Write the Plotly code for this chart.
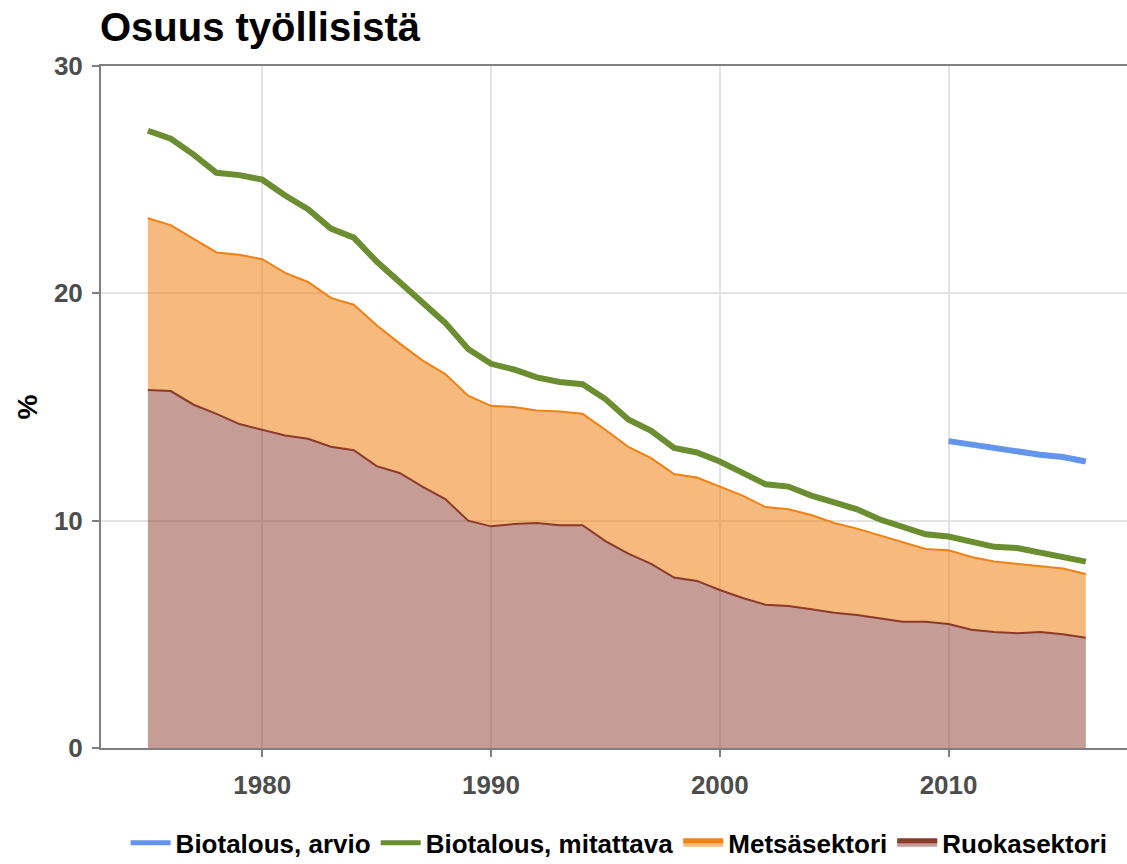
import plotly.graph_objects as go

# Vuodet ja sarjat (% työllisistä)
vuodet = list(range(1975, 2017))

ruokasektori = [15.75, 15.7, 15.1, 14.7, 14.25, 14.0, 13.75, 13.6, 13.25, 13.1,
                12.4, 12.1, 11.5, 10.95, 10.0, 9.75, 9.85, 9.9, 9.8, 9.8,
                9.1, 8.55, 8.1, 7.5, 7.35, 6.95, 6.6, 6.3, 6.25, 6.1,
                5.95, 5.85, 5.7, 5.55, 5.55, 5.45, 5.2, 5.1, 5.05, 5.1,
                5.0, 4.85]

metsasektori = [7.55, 7.3, 7.3, 7.1, 7.45, 7.5, 7.15, 6.9, 6.55, 6.4,
                6.2, 5.7, 5.55, 5.5, 5.5, 5.3, 5.15, 4.95, 5.0, 4.9,
                4.9, 4.7, 4.65, 4.55, 4.55, 4.55, 4.5, 4.3, 4.25, 4.15,
                3.95, 3.8, 3.65, 3.5, 3.2, 3.25, 3.2, 3.1, 3.05, 2.9,
                2.9, 2.8]

biotalous_mitattava = [27.15, 26.8, 26.1, 25.3, 25.2, 25.0, 24.3, 23.7, 22.85, 22.45,
                       21.4, 20.5, 19.55, 18.7, 17.55, 16.9, 16.65, 16.3, 16.1, 16.0,
                       15.35, 14.45, 13.95, 13.2, 13.0, 12.6, 12.1, 11.6, 11.5, 11.1,
                       10.8, 10.5, 10.05, 9.7, 9.4, 9.3, 9.1, 8.85, 8.8, 8.6,
                       8.45, 8.2]

vuodet_arvio = list(range(2010, 2017))
biotalous_arvio = [13.5, 13.35, 13.15, 13.05, 12.9, 12.8, 12.6]

fig = go.Figure()

fig.add_trace(go.Scatter(
    x=vuodet, y=ruokasektori, name='Ruokasektori',
    stackgroup='sektorit', mode='lines',
    line=dict(color='#8c3a2a', width=2),
    fillcolor='rgba(140,60,45,0.5)',
    legendrank=4
))
fig.add_trace(go.Scatter(
    x=vuodet, y=metsasektori, name='Metsäsektori',
    stackgroup='sektorit', mode='lines',
    line=dict(color='#f08214', width=2),
    fillcolor='rgba(240,130,20,0.55)',
    legendrank=3
))
fig.add_trace(go.Scatter(
    x=vuodet, y=biotalous_mitattava, name='Biotalous, mitattava',
    mode='lines', line=dict(color='#6b8e30', width=6),
    legendrank=2
))
fig.add_trace(go.Scatter(
    x=vuodet_arvio, y=biotalous_arvio, name='Biotalous, arvio',
    mode='lines', line=dict(color='#6495ed', width=6),
    legendrank=1
))

tick_font = dict(size=26, color='#4d4d4d', family='Liberation Sans', weight='bold')

fig.update_layout(
    width=1127, height=864,
    margin=dict(l=101, r=0, t=66, b=116, autoexpand=False),
    plot_bgcolor='white', paper_bgcolor='white',
    font=dict(family='Liberation Sans', color='#4d4d4d'),
    title=dict(text='Osuus työllisistä', x=0.0887, xanchor='left',
               y=0.969, yanchor='middle',
               font=dict(size=40, color='black', weight='bold')),
    xaxis=dict(range=[1972.95, 2017.8], tickvals=[1980, 1990, 2000, 2010],
               showgrid=True, gridcolor='#e3e3e3', gridwidth=2,
               showline=True, linecolor='#7f7f7f', linewidth=2, mirror=True,
               ticks='outside', ticklen=7, tickcolor='#7f7f7f', tickwidth=2,
               tickfont=tick_font, ticklabelstandoff=6, zeroline=False),
    yaxis=dict(range=[0, 30], tickvals=[0, 10, 20, 30],
               showgrid=True, gridcolor='#e3e3e3', gridwidth=2,
               showline=True, linecolor='#7f7f7f', linewidth=2,
               ticks='outside', ticklen=7, tickcolor='#7f7f7f', tickwidth=2,
               tickfont=tick_font, ticklabelstandoff=4, zeroline=False,
               title=dict(text='%', font=dict(size=28, color='black', weight='bold'),
                          standoff=8)),
    legend=dict(orientation='h', x=0.024, xanchor='left', y=-0.139, yanchor='middle',
                font=dict(size=26, color='black', family='Liberation Sans', weight='bold'),
                traceorder='normal', itemsizing='constant', itemwidth=40,
                tracegroupgap=0),
)

# sivun oletusmarginaali pois, jotta kuva alkaa vasemmasta yläkulmasta
fig.write_html("out.html", config={'displayModeBar': False},
               post_script="document.body.style.margin='0px';")
